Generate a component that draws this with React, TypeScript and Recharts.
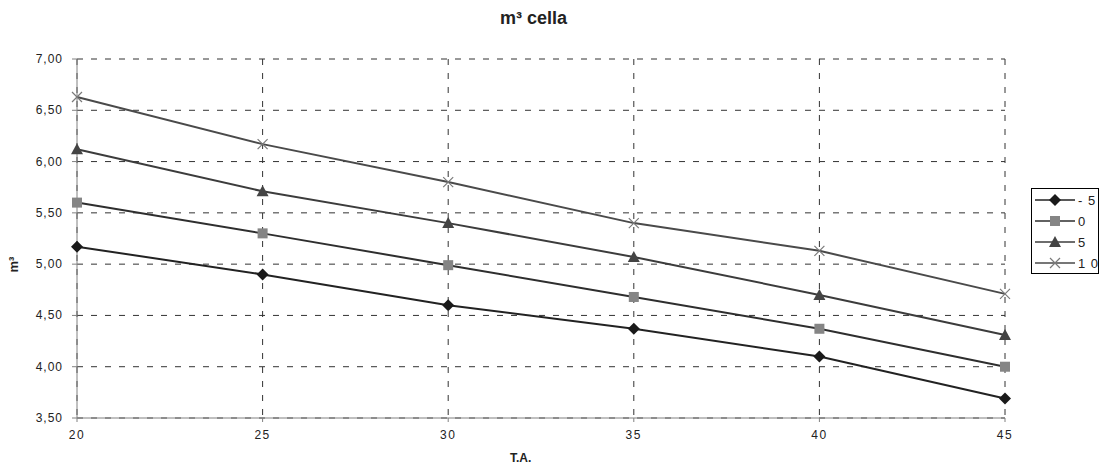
import { CartesianGrid, Line, LineChart, XAxis, YAxis } from "recharts";

const temps = [20, 25, 30, 35, 40, 45];
const serieMeno5 = [5.17, 4.9, 4.6, 4.37, 4.1, 3.69];
const serie0 = [5.6, 5.3, 4.99, 4.68, 4.37, 4.0];
const serie5 = [6.12, 5.71, 5.4, 5.07, 4.7, 4.31];
const serie10 = [6.63, 6.17, 5.8, 5.4, 5.13, 4.71];
const yTicks = [3.5, 4, 4.5, 5, 5.5, 6, 6.5, 7];

const data = temps.map((t, i) => ({
  ta: t,
  m5: serieMeno5[i],
  z: serie0[i],
  p5: serie5[i],
  p10: serie10[i],
}));

const font = "'Liberation Sans', Arial, sans-serif";

// marker disegnati a mano, stile Excel
const Diamond = ({ cx, cy, fill }: any) => (
  <path d={`M${cx},${cy - 6} L${cx + 6},${cy} L${cx},${cy + 6} L${cx - 6},${cy} Z`} fill={fill} />
);
const Square = ({ cx, cy, fill }: any) => <rect x={cx - 5} y={cy - 5} width={10} height={10} fill={fill} />;
const Triangle = ({ cx, cy, fill }: any) => (
  <path d={`M${cx},${cy - 6} L${cx + 6},${cy + 5} L${cx - 6},${cy + 5} Z`} fill={fill} />
);
const Cross = ({ cx, cy, fill }: any) => (
  <path d={`M${cx - 5},${cy - 5} L${cx + 5},${cy + 5} M${cx + 5},${cy - 5} L${cx - 5},${cy + 5}`} stroke={fill} strokeWidth={1.2} />
);

const series = [
  { key: "m5", label: "- 5", line: "#222", mark: "#1a1a1a", Dot: Diamond },
  { key: "z", label: "0", line: "#2e2e2e", mark: "#858585", Dot: Square },
  { key: "p5", label: "5", line: "#3c3c3c", mark: "#444", Dot: Triangle },
  { key: "p10", label: "1 0", line: "#4a4a4a", mark: "#7a7a7a", Dot: Cross },
];

const XTick = ({ x, y, payload }: any) => (
  <text x={x} y={y + 15} textAnchor="middle" fontSize={12} fill="#222" fontFamily={font} letterSpacing={1.5}>
    {String(payload.value)}
  </text>
);

const YTick = ({ x, y, payload }: any) => (
  <text x={x - 7} y={y + 4} textAnchor="end" fontSize={12} fill="#222" fontFamily={font} letterSpacing={1}>
    {payload.value.toFixed(2).replace(".", ",")}
  </text>
);

const LegendBox = () => (
  <svg width={68} height={86}>
    <rect x={0.5} y={0.5} width={67} height={85} fill="#fff" stroke="#000" />
    {series.map((s, i) => {
      const y = 12 + i * 21;
      return (
        <g key={s.key}>
          <line x1={4} x2={44} y1={y} y2={y} stroke={s.line} strokeWidth={1.5} />
          <s.Dot cx={24} cy={y} fill={s.mark} />
          <text x={47} y={y + 5} fontSize={13} fill="#222" fontFamily={font} letterSpacing={1}>
            {s.label}
          </text>
        </g>
      );
    })}
  </svg>
);

export default function App() {
  return (
    <div style={{ position: "absolute", left: 0, top: 0, width: 1107, height: 470, background: "#fff", fontFamily: font }}>
      <div style={{ position: "absolute", left: 0, width: 1067, top: 8, textAlign: "center", fontSize: 18, fontWeight: "bold", color: "#222" }}>
        m³ cella
      </div>
      <div
        style={{
          position: "absolute",
          left: 6,
          top: 258,
          transform: "rotate(-90deg)",
          transformOrigin: "center",
          fontSize: 13,
          fontWeight: "bold",
          color: "#222",
          lineHeight: "13px",
        }}
      >
        m³
      </div>
      <div style={{ position: "absolute", left: 510, top: 451, fontSize: 12, fontWeight: "bold", color: "#222" }}>T.A.</div>
      <LineChart width={1107} height={470} data={data} margin={{ top: 59, right: 102, left: 0, bottom: 0 }}>
        <CartesianGrid stroke="#333" strokeDasharray="6 8" />
        <XAxis
          dataKey="ta"
          type="number"
          domain={[20, 45]}
          ticks={temps}
          height={52}
          stroke="#808080"
          tickSize={4}
          tick={<XTick />}
        />
        <YAxis
          type="number"
          domain={[3.5, 7]}
          ticks={yTicks}
          width={77}
          stroke="#808080"
          tickSize={5}
          tick={<YTick />}
        />
        {series.map((s) => (
          <Line
            key={s.key}
            dataKey={s.key}
            stroke={s.line}
            strokeWidth={2}
            isAnimationActive={false}
            dot={(p: any) => <s.Dot key={`${s.key}-${p.index}`} cx={p.cx} cy={p.cy} fill={s.mark} />}
            activeDot={false}
          />
        ))}
      </LineChart>
      <div style={{ position: "absolute", left: 1031, top: 188 }}>
        <LegendBox />
      </div>
    </div>
  );
}
